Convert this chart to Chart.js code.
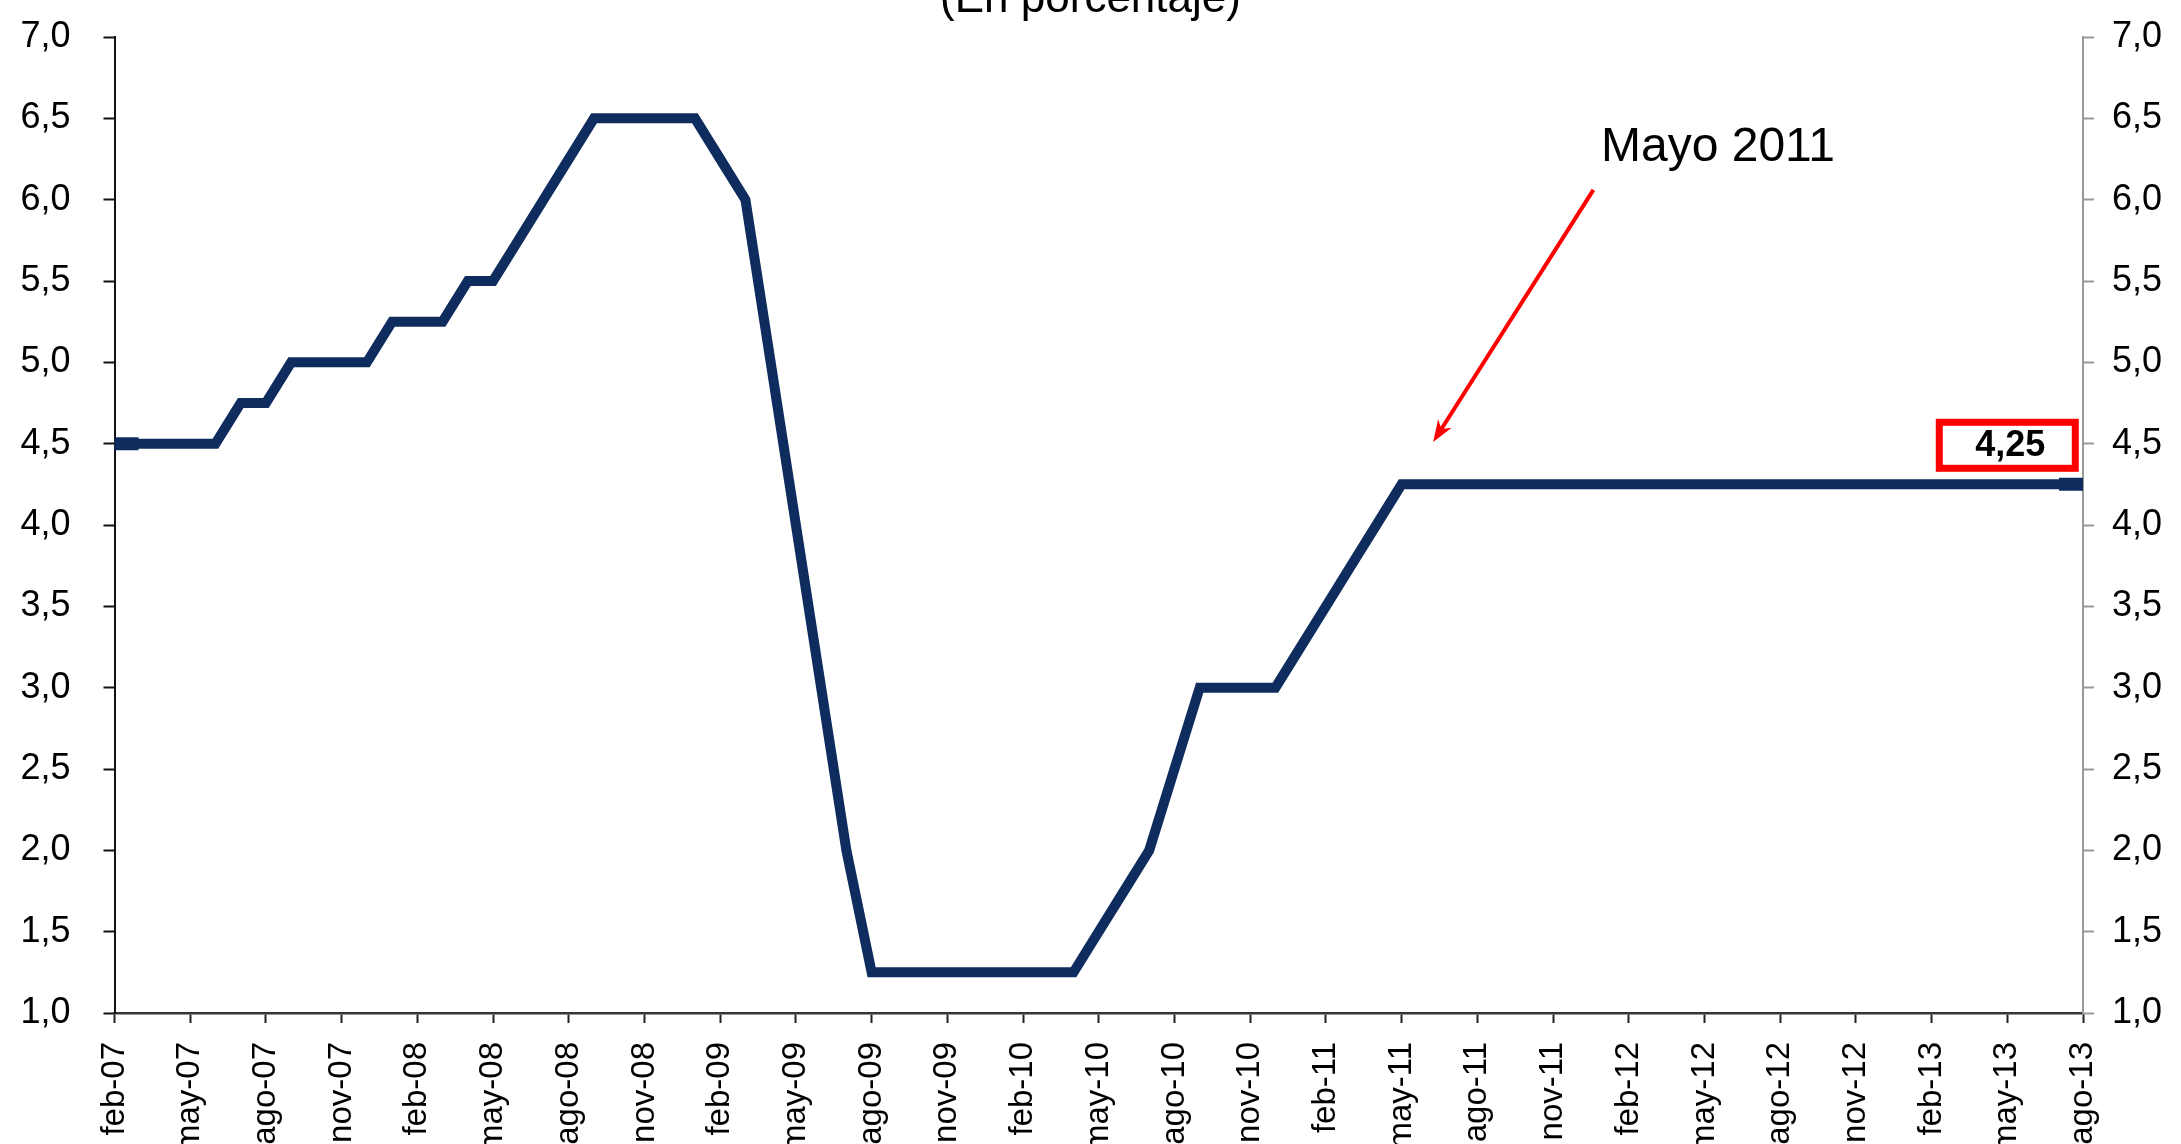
<!DOCTYPE html>
<html>
<head>
<meta charset="utf-8">
<script src="https://cdn.jsdelivr.net/npm/chart.js@4.4.1/dist/chart.umd.min.js"></script>
<style>
  html, body { margin: 0; padding: 0; background: #ffffff; }
  #wrap { position: absolute; left: 0; top: 0; width: 2181px; height: 1144px; }
</style>
</head>
<body>
<div id="wrap"><canvas id="c" width="2181" height="1144"></canvas></div>
<script>
// ---- Data ----
const MONTHS = [
  'feb-07','mar-07','abr-07','may-07','jun-07','jul-07','ago-07','sep-07','oct-07','nov-07','dic-07',
  'ene-08','feb-08','mar-08','abr-08','may-08','jun-08','jul-08','ago-08','sep-08','oct-08','nov-08','dic-08',
  'ene-09','feb-09','mar-09','abr-09','may-09','jun-09','jul-09','ago-09','sep-09','oct-09','nov-09','dic-09',
  'ene-10','feb-10','mar-10','abr-10','may-10','jun-10','jul-10','ago-10','sep-10','oct-10','nov-10','dic-10',
  'ene-11','feb-11','mar-11','abr-11','may-11','jun-11','jul-11','ago-11','sep-11','oct-11','nov-11','dic-11',
  'ene-12','feb-12','mar-12','abr-12','may-12','jun-12','jul-12','ago-12','sep-12','oct-12','nov-12','dic-12',
  'ene-13','feb-13','mar-13','abr-13','may-13','jun-13','jul-13','ago-13'
];
const RATE = [
  4.5, 4.5, 4.5, 4.5, 4.5, 4.75, 4.75, 5.0, 5.0, 5.0, 5.0,
  5.25, 5.25, 5.25, 5.5, 5.5, 5.75, 6.0, 6.25, 6.5, 6.5, 6.5, 6.5,
  6.5, 6.25, 6.0, 5.0, 4.0, 3.0, 2.0, 1.25, 1.25, 1.25, 1.25, 1.25,
  1.25, 1.25, 1.25, 1.25, 1.5, 1.75, 2.0, 2.5, 3.0, 3.0, 3.0, 3.0,
  3.25, 3.5, 3.75, 4.0, 4.25, 4.25, 4.25, 4.25, 4.25, 4.25, 4.25, 4.25,
  4.25, 4.25, 4.25, 4.25, 4.25, 4.25, 4.25, 4.25, 4.25, 4.25, 4.25, 4.25,
  4.25, 4.25, 4.25, 4.25, 4.25, 4.25, 4.25, 4.25
];
const Y_MIN = 1.0, Y_MAX = 7.0, Y_STEP = 0.5;
const TICK_EVERY = 3;
const TITLE = '(En porcentaje)';
const NOTE_TEXT = 'Mayo 2011';
const LAST_TEXT = '4,25';
// annotation anchors in data space [category index, value]
const NOTE_AT = [58.9, 6.24];
const ARROW_FROM = [58.6, 6.06];
const ARROW_TO = [52.25, 4.51];
const BOX_AT = [75, 4.49];

const FONT = '"Liberation Sans", Arial, Helvetica, sans-serif';
const LINE_COLOR = '#0F2C5E';

const annotations = {
  id: 'annotations',
  afterDraw(chart) {
    const ctx = chart.ctx;
    const x = chart.scales.x, y = chart.scales.y;
    const px = a => [x.getPixelForValue(a[0]), y.getPixelForValue(a[1])];
    ctx.save();
    // title (cut at top as in reference)
    ctx.fillStyle = '#000';
    ctx.font = '44px ' + FONT;
    ctx.textAlign = 'center';
    ctx.textBaseline = 'alphabetic';
    ctx.fillText(TITLE, chart.width / 2, 12);

    // note text
    const [nx, ny] = px(NOTE_AT);
    ctx.font = '48px ' + FONT;
    ctx.textAlign = 'left';
    ctx.fillText(NOTE_TEXT, nx, ny);

    // arrow
    const [ax0, ay0] = px(ARROW_FROM);
    const [ax1, ay1] = px(ARROW_TO);
    const ang = Math.atan2(ay1 - ay0, ax1 - ax0);
    const headLen = 22, headW = 8;
    ctx.strokeStyle = '#FF0000';
    ctx.fillStyle = '#FF0000';
    ctx.lineWidth = 4;
    ctx.beginPath();
    ctx.moveTo(ax0, ay0);
    ctx.lineTo(ax1 - Math.cos(ang) * headLen * 0.7, ay1 - Math.sin(ang) * headLen * 0.7);
    ctx.stroke();
    ctx.beginPath();
    ctx.moveTo(ax1, ay1);
    ctx.lineTo(ax1 - Math.cos(ang) * headLen + Math.sin(ang) * headW,
               ay1 - Math.sin(ang) * headLen - Math.cos(ang) * headW);
    ctx.lineTo(ax1 - Math.cos(ang) * headLen * 0.7, ay1 - Math.sin(ang) * headLen * 0.7);
    ctx.lineTo(ax1 - Math.cos(ang) * headLen - Math.sin(ang) * headW,
               ay1 - Math.sin(ang) * headLen + Math.cos(ang) * headW);
    ctx.closePath();
    ctx.fill();

    // red box with last value
    const [bx, by] = px(BOX_AT);
    const bw = 136, bh = 46;
    ctx.lineWidth = 7;
    ctx.strokeStyle = '#FF0000';
    ctx.fillStyle = '#FFFFFF';
    ctx.fillRect(bx - bw / 2, by - bh / 2, bw, bh);
    ctx.strokeRect(bx - bw / 2, by - bh / 2, bw, bh);
    ctx.fillStyle = '#000';
    ctx.font = 'bold 36px ' + FONT;
    ctx.textAlign = 'center';
    ctx.textBaseline = 'middle';
    ctx.fillText(LAST_TEXT, bx + 3, by + 1);
    ctx.restore();
  }
};

const fmt = v => Number(v).toFixed(1).replace('.', ',');
const lastIdx = RATE.length - 1;

new Chart(document.getElementById('c'), {
  type: 'line',
  data: {
    labels: MONTHS,
    datasets: [{
      data: RATE,
      yAxisID: 'y',
      borderColor: LINE_COLOR,
      backgroundColor: LINE_COLOR,
      borderWidth: 10,
      borderJoinStyle: 'miter',
      borderCapStyle: 'butt',
      tension: 0,
      fill: false,
      clip: { left: 0, right: 0, top: 10, bottom: 10 },
      pointStyle: 'line',
      pointRadius: c => (c.dataIndex === 0 || c.dataIndex === lastIdx) ? 24 : 0,
      pointBorderWidth: 13,
      pointBorderColor: LINE_COLOR,
      pointHoverRadius: 0
    }]
  },
  options: {
    responsive: false,
    devicePixelRatio: 1,
    animation: false,
    events: [],
    layout: { padding: { top: 34.5, left: 0, right: 0, bottom: 0 } },
    plugins: { legend: { display: false }, tooltip: { enabled: false }, title: { display: false } },
    scales: {
      x: {
        type: 'category',
        offset: false,
        grid: {
          drawOnChartArea: false,
          drawTicks: true,
          tickLength: 10,
          tickWidth: 2,
          tickColor: c => (c.index % TICK_EVERY === 0) ? '#222' : 'rgba(0,0,0,0)'
        },
        border: { display: true, color: '#333', width: 2.5 },
        ticks: {
          autoSkip: false,
          minRotation: 90,
          maxRotation: 90,
          padding: 19,
          color: '#000',
          font: { family: FONT, size: 33 },
          callback: (v, i) => (i % TICK_EVERY === 0) ? MONTHS[i] : ''
        },
        afterFit: s => { s.height = 131; }
      },
      y: {
        position: 'left',
        min: Y_MIN, max: Y_MAX,
        grid: { drawOnChartArea: false, drawTicks: true, tickLength: 11, color: '#111', tickWidth: 2 },
        border: { display: true, color: '#111', width: 2 },
        ticks: {
          stepSize: Y_STEP,
          padding: 33,
          color: '#000',
          font: { family: FONT, size: 36 },
          callback: v => fmt(v)
        },
        afterFit: s => { s.width = 114.5; s.paddingTop = 0; s.paddingBottom = 0; }
      },
      y2: {
        position: 'right',
        min: Y_MIN, max: Y_MAX,
        grid: { drawOnChartArea: false, drawTicks: true, tickLength: 11, color: '#999', tickWidth: 2 },
        border: { display: true, color: '#999', width: 2 },
        ticks: {
          stepSize: Y_STEP,
          padding: 18,
          color: '#000',
          font: { family: FONT, size: 36 },
          callback: v => fmt(v)
        },
        afterFit: s => { s.width = 98; s.paddingTop = 0; s.paddingBottom = 0; }
      }
    }
  },
  plugins: [annotations]
});
</script>
</body>
</html>
